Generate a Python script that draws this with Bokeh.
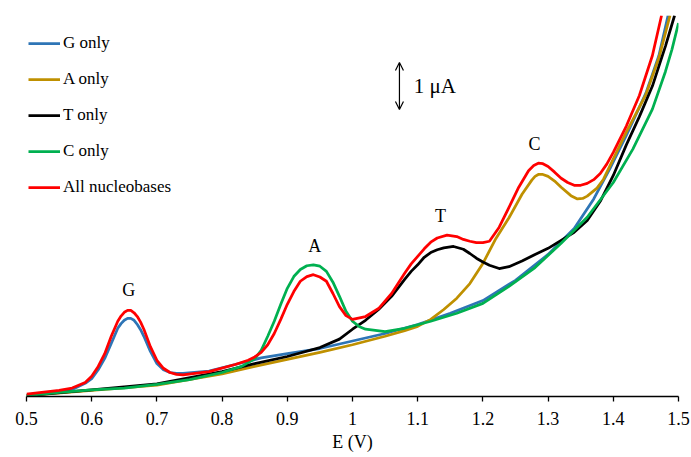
from bokeh.plotting import figure
from bokeh.models import (Range1d, FixedTicker, Legend, LegendItem, Label,
                          Arrow, OpenHead)
from bokeh.embed import file_html
from bokeh.resources import INLINE

# ---------------- data (E in V, current in µA above baseline) ----------------
e_g = [0.50, 0.55, 0.57, 0.59, 0.60, 0.61, 0.62, 0.63, 0.64, 0.645, 0.65, 0.655,
       0.66, 0.665, 0.67, 0.675, 0.68, 0.69, 0.70, 0.71, 0.72, 0.73, 0.74, 0.78,
       0.82, 0.86, 0.90, 0.95, 1.00, 1.05, 1.10, 1.15, 1.20, 1.25, 1.30, 1.34,
       1.37, 1.395, 1.42, 1.45, 1.47, 1.484]
i_g = [0.03, 0.11, 0.15, 0.28, 0.38, 0.57, 0.81, 1.13, 1.45, 1.55, 1.62, 1.66,
       1.66, 1.62, 1.53, 1.42, 1.28, 0.96, 0.70, 0.57, 0.51, 0.49, 0.49, 0.54,
       0.68, 0.82, 0.91, 1.02, 1.18, 1.34, 1.53, 1.77, 2.04, 2.47, 3.02, 3.57,
       4.20, 4.85, 5.55, 6.45, 7.25, 8.10]

e_a = [0.50, 0.60, 0.70, 0.80, 0.85, 0.90, 0.95, 1.00, 1.05, 1.08, 1.10, 1.12,
       1.14, 1.16, 1.18, 1.20, 1.22, 1.24, 1.26, 1.275, 1.28, 1.285, 1.292,
       1.30, 1.31, 1.32, 1.335, 1.345, 1.353, 1.36, 1.375, 1.385, 1.40, 1.42,
       1.45, 1.47, 1.487]
i_a = [0.02, 0.13, 0.24, 0.48, 0.64, 0.79, 0.94, 1.10, 1.28, 1.40, 1.49, 1.64,
       1.85, 2.09, 2.40, 2.83, 3.36, 3.80, 4.30, 4.60, 4.68, 4.72, 4.72,
       4.68, 4.58, 4.45, 4.27, 4.20, 4.21, 4.26, 4.43, 4.62, 5.05, 5.62,
       6.42, 7.20, 8.10]

e_t = [0.50, 0.60, 0.70, 0.80, 0.85, 0.90, 0.95, 0.98, 1.00, 1.02, 1.04, 1.06,
       1.08, 1.09, 1.10, 1.11, 1.12, 1.13, 1.14, 1.155, 1.17, 1.18, 1.19, 1.20,
       1.21, 1.225, 1.24, 1.26, 1.28, 1.30, 1.32, 1.34, 1.36, 1.38, 1.40, 1.42,
       1.44, 1.46, 1.48, 1.494]
i_t = [0.02, 0.14, 0.27, 0.53, 0.70, 0.85, 1.04, 1.22, 1.43, 1.62, 1.85, 2.13,
       2.49, 2.66, 2.80, 2.96, 3.06, 3.12, 3.16, 3.19, 3.13, 3.04, 2.94, 2.86,
       2.79, 2.72, 2.76, 2.88, 3.02, 3.15, 3.32, 3.49, 3.74, 4.15, 4.70, 5.35,
       5.95, 6.60, 7.45, 8.10]

e_c = [0.50, 0.55, 0.60, 0.65, 0.70, 0.75, 0.80, 0.83, 0.84, 0.85, 0.86, 0.87,
       0.88, 0.89, 0.90, 0.91, 0.92, 0.93, 0.94, 0.95, 0.96, 0.97, 0.98, 0.99,
       1.00, 1.01, 1.02, 1.05, 1.08, 1.12, 1.16, 1.20, 1.24, 1.28, 1.32, 1.36,
       1.40, 1.43, 1.46, 1.48, 1.49, 1.50]
i_c = [0.02, 0.09, 0.14, 0.18, 0.26, 0.36, 0.51, 0.64, 0.72, 0.80, 0.98, 1.28,
       1.60, 1.96, 2.30, 2.55, 2.70, 2.78, 2.80, 2.77, 2.66, 2.43, 2.13, 1.81,
       1.60, 1.49, 1.43, 1.38, 1.45, 1.60, 1.77, 1.98, 2.34, 2.74, 3.26, 3.81,
       4.55, 5.26, 6.11, 6.91, 7.38, 7.94]

e_all = [0.50, 0.55, 0.57, 0.59, 0.60, 0.61, 0.62, 0.63, 0.64, 0.645, 0.65,
         0.655, 0.66, 0.665, 0.67, 0.675, 0.68, 0.69, 0.70, 0.71, 0.72, 0.73,
         0.74, 0.78, 0.82, 0.84, 0.85, 0.86, 0.87, 0.88, 0.89, 0.90, 0.91, 0.92,
         0.93, 0.94, 0.95, 0.96, 0.97, 0.98, 0.99, 1.00, 1.02, 1.04, 1.06, 1.08,
         1.09, 1.10, 1.11, 1.12, 1.13, 1.145, 1.16, 1.17, 1.18, 1.19, 1.20,
         1.21, 1.225, 1.24, 1.255, 1.27, 1.278, 1.285, 1.292, 1.30, 1.31, 1.32,
         1.33, 1.34, 1.35, 1.36, 1.37, 1.38, 1.39, 1.40, 1.42, 1.44, 1.46,
         1.474]
i_all = [0.05, 0.13, 0.18, 0.30, 0.43, 0.64, 0.91, 1.28, 1.60, 1.71, 1.79,
         1.83, 1.83, 1.78, 1.70, 1.58, 1.43, 1.06, 0.77, 0.60, 0.51, 0.47,
         0.46, 0.53, 0.68, 0.77, 0.84, 0.94, 1.10, 1.34, 1.64, 1.96, 2.23, 2.45,
         2.55, 2.59, 2.54, 2.45, 2.19, 1.91, 1.72, 1.64, 1.70, 1.87, 2.19, 2.62,
         2.82, 2.98, 3.14, 3.28, 3.37, 3.43, 3.40, 3.34, 3.30, 3.27, 3.27,
         3.30, 3.60, 4.02, 4.45, 4.80, 4.91, 4.96, 4.95, 4.89, 4.77, 4.64,
         4.55, 4.49, 4.49, 4.53, 4.61, 4.74, 4.94, 5.19, 5.75, 6.40, 7.25,
         8.10]

series_names = ["G only", "A only", "T only", "C only", "All nucleobases"]
series_colors = ["#2E75B6", "#BF9000", "#000000", "#00B050", "#FF0000"]

tick_values = [0.5, 0.6, 0.7, 0.8, 0.9, 1.0, 1.1, 1.2, 1.3, 1.4, 1.5]
tick_labels = ["0.5", "0.6", "0.7", "0.8", "0.9", "1", "1.1", "1.2", "1.3",
               "1.4", "1.5"]

peak_names = ["G", "A", "T", "C"]
peak_x = [0.657, 0.942, 1.135, 1.279]
peak_y = [2.26, 3.21, 3.83, 5.36]

scale_bar_uA = 1.0
scale_bar_x = 1.072
scale_bar_y0 = 6.10

SERIF = "Liberation Serif"

# ---------------- figure ----------------
p = figure(width=691, height=457, output_backend="svg", toolbar_location=None,
           x_range=Range1d(0.5, 1.5), y_range=Range1d(0, 8.1),
           y_axis_location=None,
           min_border_left=26, min_border_right=13, min_border_top=15,
           min_border_bottom=61)
p.outline_line_color = None
p.xgrid.visible = False
p.ygrid.visible = False
p.background_fill_color = "white"
p.border_fill_color = "white"

xs = [e_g, e_a, e_t, e_c, e_all]
ys = [i_g, i_a, i_t, i_c, i_all]
renderers = []
for x, y, c in zip(xs, ys, series_colors):
    r = p.line(x, y, line_color=c, line_width=2.75, line_join="round")
    renderers.append(r)

# axis
ax = p.xaxis[0]
ax.ticker = FixedTicker(ticks=tick_values)
ax.major_label_overrides = dict(zip(tick_values, tick_labels))
ax.minor_tick_line_color = None
ax.major_tick_in = 0
ax.major_tick_out = 5
ax.axis_line_width = 1.3
ax.major_tick_line_width = 1.3
ax.major_label_text_font = SERIF
ax.major_label_text_font_size = "18px"
ax.major_label_text_color = "black"
ax.major_label_standoff = 10
ax.axis_label = "E (V)"
ax.axis_label_text_font = SERIF
ax.axis_label_text_font_size = "18px"
ax.axis_label_text_font_style = "normal"
ax.axis_label_text_color = "black"
ax.axis_label_standoff = 4

# legend
items = [LegendItem(label=n, renderers=[r]) for n, r in zip(series_names, renderers)]
legend = Legend(items=items, location=(2, 199), padding=0, margin=0,
                border_line_alpha=0, background_fill_alpha=0,
                glyph_width=32, glyph_height=20, label_height=20,
                spacing=16, label_standoff=3,
                label_text_font=SERIF, label_text_font_size="17px",
                label_text_color="black")
p.add_layout(legend, "center")

# peak labels
for n, x, y in zip(peak_names, peak_x, peak_y):
    p.add_layout(Label(x=x, y=y, text=n, text_align="center",
                       text_baseline="middle", text_font=SERIF,
                       text_font_size="18px", text_color="black"))

# scale bar
p.add_layout(Arrow(x_start=scale_bar_x, y_start=scale_bar_y0,
                   x_end=scale_bar_x, y_end=scale_bar_y0 + scale_bar_uA,
                   start=OpenHead(size=8, line_width=1.2),
                   end=OpenHead(size=8, line_width=1.2),
                   line_width=1.2, line_color="black"))
p.add_layout(Label(x=1.094, y=scale_bar_y0 + scale_bar_uA / 2, text="1 μA",
                   text_align="left", text_baseline="middle", text_font=SERIF,
                   text_font_size="21px", text_color="black"))

open("out.html", "w").write(file_html(p, INLINE))
